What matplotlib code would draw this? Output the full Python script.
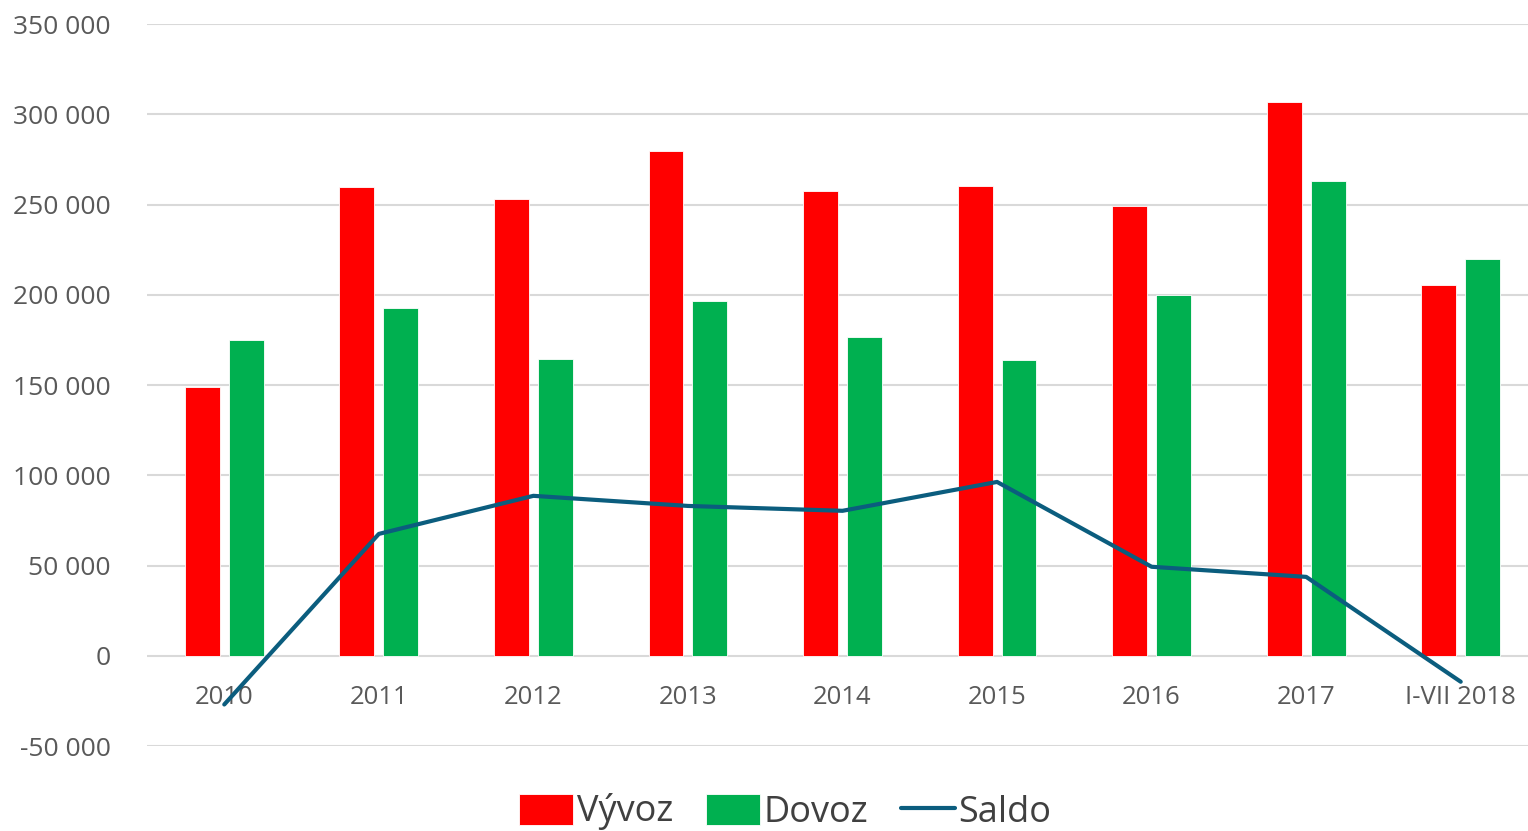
import matplotlib.pyplot as plt
import numpy as np

categories = ['2010', '2011', '2012', '2013', '2014', '2015', '2016', '2017', 'I-VII 2018']
vyvoz = [149000, 259700, 253000, 279600, 257500, 260200, 249200, 306700, 205400]
dovoz = [175000, 192700, 164500, 196600, 176600, 163900, 199900, 263000, 219800]
saldo = [-27000, 67500, 88600, 83000, 80300, 96300, 49300, 43700, -14400]

plt.rcParams['font.family'] = ['Open Sans', 'DejaVu Sans']

fig = plt.figure(figsize=(15.28, 8.31), dpi=100)
ax = fig.add_axes([147 / 1528, 1 - 746 / 831, 1391 / 1528, (746 - 24) / 831])

x = np.arange(len(categories))
w = 0.226
b1 = ax.bar(x - 0.142, vyvoz, w, color='#ff0000', edgecolor='white', linewidth=0.6, label='Vývoz', zorder=2)
b2 = ax.bar(x + 0.142, dovoz, w, color='#00b050', edgecolor='white', linewidth=0.6, label='Dovoz', zorder=2)
ln, = ax.plot(x, saldo, color='#0b5d7e', linewidth=3, label='Saldo', zorder=4, solid_capstyle='round')

ax.set_xlim(-0.5, len(categories) - 0.5)
ax.set_ylim(-50000, 350000)
ax.set_yticks(range(-50000, 350001, 50000))
ax.set_yticklabels([f'{v:,}'.replace(',', ' ') for v in range(-50000, 350001, 50000)])
ax.grid(axis='y', color='#d9d9d9', linewidth=1.5, zorder=0)
ax.set_axisbelow(True)

# category labels sit just under zero, not at the bottom of the axes
ax.set_xticks([])
for i, c in enumerate(categories):
    ax.text(i, -23000, c, ha='center', va='center', fontsize=18.5, color='#595959', zorder=3)

for s in ax.spines.values():
    s.set_visible(False)
ax.tick_params(axis='y', length=0, pad=26, labelsize=19, labelcolor='#595959')

fig.legend([b1, b2, ln], ['Vývoz', 'Dovoz', 'Saldo'], loc='center', bbox_to_anchor=(0.514, 1 - 812 / 831),
           ncol=3, frameon=False, fontsize=26, handlelength=1.5, handleheight=0.95,
           handletextpad=0.1, columnspacing=0.9, labelcolor='#404040', borderaxespad=0)

fig.savefig('out.png', dpi=100)
